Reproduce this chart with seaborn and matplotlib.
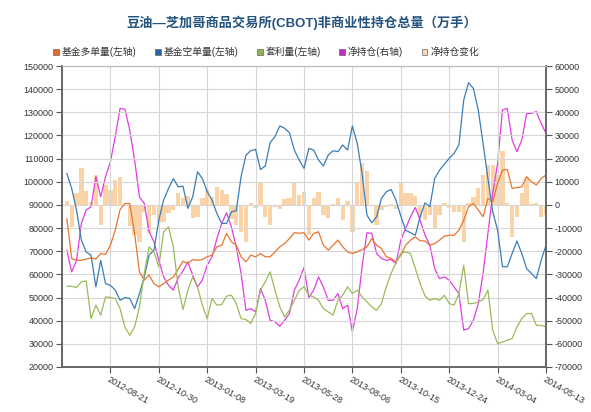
import numpy as np
import pandas as pd
import matplotlib
matplotlib.use('Agg')
import matplotlib.pyplot as plt
import seaborn as sns
from matplotlib.patches import Patch

# ------------------------------------------------------------
# data (weekly)
# ------------------------------------------------------------
start_date = '2012-06-19'
end_date = '2014-05-13'

# 基金多单量 (left axis)
long_pos = [84100, 66900, 66100, 66100, 66600, 67100, 66600, 69000, 68700, 72600,
            79100, 88000, 90600, 90600, 77700, 61100, 57500, 59700, 56000, 54600,
            56000, 57500, 58900, 62200, 65700, 64700, 66400, 66100, 66400, 67600,
            68300, 71900, 72600, 77700, 74100, 72600, 67600, 65400, 68300, 67600,
            69000, 67600, 67600, 69700, 71900, 73300, 75500, 78000, 77800, 78000,
            74800, 77700, 78400, 72600, 70500, 72600, 74800, 71900, 69700, 69000,
            69700, 70700, 71900, 75500, 72600, 71200, 67600, 66900, 65400, 68300,
            72600, 74800, 76200, 74500, 74400, 72600, 73300, 74800, 76500, 76900,
            76900, 79100, 83400, 89200, 90600, 87800, 84900, 92800, 91400, 99300,
            105000, 105300, 97100, 97500, 97800, 102200, 100000, 98600, 101400, 102900]

# 基金空单量 (left axis)
short_pos = [103600, 97100, 87800, 74800, 69700, 68300, 54600, 66100, 56000, 55300,
             53200, 48800, 50000, 49600, 45200, 51700, 58900, 68300, 70500, 83400,
             92100, 97100, 101400, 97800, 98100, 88500, 93500, 104300, 101400, 95700,
             92100, 86300, 82000, 82000, 87000, 87500, 102200, 111500, 113400, 114000,
             105300, 106800, 116900, 119500, 124100, 123100, 121200, 113700, 109400, 105800,
             114400, 113700, 109400, 106800, 111500, 113400, 113000, 115900, 113700, 124100,
             116600, 103600, 85600, 82300, 84900, 92800, 95700, 96700, 92100, 85200,
             79100, 78000, 76900, 84900, 90900, 89200, 101400, 105000, 107600, 110100,
             112200, 115900, 135300, 142800, 140300, 131000, 116600, 101400, 87000, 79100,
             63300, 63300, 69000, 74400, 69000, 62500, 60400, 58200, 66100, 72600]

# 套利量 (left axis)
spread_pos = [54900, 54900, 54300, 56800, 57200, 40900, 46700, 42400, 50300, 50000,
              49600, 45200, 37300, 33700, 37300, 46000, 60400, 71900, 69700, 63300,
              78400, 80500, 71900, 54600, 44800, 53200, 58900, 54600, 46700, 40900,
              49600, 46700, 47000, 50600, 51000, 47400, 40900, 40500, 38800, 43100,
              53200, 56800, 61100, 53200, 46000, 41600, 44500, 48800, 53000, 54700,
              51000, 50300, 48800, 45200, 43800, 42400, 48800, 51000, 54600, 51700,
              53200, 50300, 48100, 46000, 44500, 47400, 54600, 60400, 65000, 69000,
              69700, 69000, 62500, 56000, 50700, 48800, 49600, 48800, 51000, 47400,
              46700, 51700, 64000, 47400, 47400, 48100, 49100, 53200, 35900, 30100,
              30800, 31600, 32300, 37300, 40900, 43100, 43100, 38000, 38000, 37300]

# 净持仓 (right axis)
net_pos = [-19500, -28900, -23900, -8000, -2200, -800, 12200, 3500, 12200, 18600,
           29500, 41700, 41300, 32300, 19400, 3500, 600, -11600, -15900, -23900,
           -31100, -34700, -36800, -31500, -28500, -24600, -30300, -35400, -32500, -26000,
           -22400, -14500, -8000, -3400, -9500, -18100, -29600, -45500, -44800, -46200,
           -36100, -41200, -49800, -50500, -52400, -49800, -46900, -36800, -32500, -27000,
           -40000, -36800, -31100, -35400, -41200, -41200, -38300, -44800, -43300, -54800,
           -44800, -26700, -12000, -12300, -21000, -23100, -23900, -23600, -25300, -15200,
           -10200, -5100, -1100, -6600, -13000, -17400, -27500, -31800, -31100, -32500,
           -35400, -38300, -54100, -53400, -49800, -42600, -29600, -12300, 5000, 17900,
           41000, 41700, 28000, 23000, 28000, 39500, 39500, 40300, 35200, 30900]

# 净持仓变化 (right axis, bars)
net_change = [1500, -9400, 5000, 15900, 5800, 1400, 13000, -8700, 8700, 6400,
              10900, 12200, -400, -9000, -12900, -15900, -2900, -12200, -4300, -8000,
              -7200, -3600, -2100, 5300, 3000, 3900, -5700, -5100, 2900, 6500,
              3600, 7900, 6500, 4600, -6100, -8600, -11500, -15900, 700, -1400,
              10100, -5100, -8600, -700, -1900, 2600, 2900, 10100, 4300, 5500,
              -13000, 3200, 5700, -4300, -5800, 300, 2900, -6500, 1500, -11500,
              10000, 18100, 14700, -300, -8700, -2100, -800, 300, -1700, 10100,
              5000, 5100, 4000, -5500, -6400, -4400, -10100, -4300, 700, -1400,
              -2900, -2900, -15800, 700, 3600, 7200, 13000, 17300, 17300, 12900,
              23100, 700, -13700, -5000, 5000, 11500, 300, 800, -5100, -4300]

tick_labels = ['2012-08-21', '2012-10-30', '2013-01-08', '2013-03-19', '2013-05-28',
               '2013-08-06', '2013-10-15', '2013-12-24', '2014-03-04', '2014-05-13']

series_names = ['基金多单量(左轴)', '基金空单量(左轴)', '套利量(左轴)', '净持仓(右轴)', '净持仓变化']
line_colors = ['#E8762D', '#3A7DB8', '#9BBB59', '#E23CE2']
bar_color = '#FBC893'
legend_colors = ['#E8692C', '#2565A6', '#8DB552', '#C828C8', '#F9D8B8']

title = '豆油—芝加哥商品交易所(CBOT)非商业性持仓总量（万手）'

dates = pd.date_range(start_date, end_date, freq='7D')
df = pd.DataFrame({'date': dates, 'long': long_pos, 'short': short_pos,
                   'spread': spread_pos, 'net': net_pos, 'change': net_change})

# ------------------------------------------------------------
# style
# ------------------------------------------------------------
sns.set_theme(style='whitegrid')
plt.rcParams['font.family'] = ['Liberation Sans', 'Noto Sans CJK SC', 'DejaVu Sans']
plt.rcParams['axes.unicode_minus'] = False

W, H = 591, 412
fig = plt.figure(figsize=(W / 100, H / 100), dpi=100)
ax = fig.add_axes([62 / W, 1 - 367 / H, (546 - 62) / W, (367 - 66) / H])
ax2 = ax.twinx()

# right axis: bars + net position
ax2.bar(df['date'], df['change'], width=6.2, color=bar_color, alpha=0.8, linewidth=0, zorder=1)
sns.lineplot(data=df, x='date', y='net', ax=ax2, color=line_colors[3], lw=0.9, zorder=3)

# left axis lines
for col, c in zip(['long', 'short', 'spread'], line_colors[:3]):
    sns.lineplot(data=df, x='date', y=col, ax=ax, color=c, lw=0.9)

ax.set_zorder(ax2.get_zorder() + 1)
ax.patch.set_visible(False)

# axes limits / ticks
ax.set_xlim(dates[0] - pd.Timedelta(days=7), dates[-1])
ax.set_ylim(20000, 150000)
ax.set_yticks(np.arange(20000, 150001, 10000))
ax2.set_ylim(-70000, 60000)
ax2.set_yticks(np.arange(-70000, 60001, 10000))

ax.set_xticks(pd.to_datetime(tick_labels))
ax.set_xticklabels(tick_labels, rotation=-30, ha='left', va='top',
                   rotation_mode='anchor', fontsize=6.5, color='#333333')
ax.tick_params(axis='y', labelsize=6.5, labelcolor='#333333')
ax2.tick_params(axis='y', labelsize=6.5, labelcolor='#333333')
ax.set_xlabel('')
ax.set_ylabel('')
ax2.set_ylabel('')

ax.grid(True, color='#d6d6d6', linewidth=0.8)
ax2.grid(False)
ax.tick_params(axis='both', length=4, width=0.8, color='#555555', left=True, bottom=True, pad=2)
ax2.tick_params(axis='y', length=4, width=0.8, color='#555555', right=True, pad=2)

for a in (ax, ax2):
    for side in ['left', 'right', 'bottom']:
        a.spines[side].set_color('#666666')
        a.spines[side].set_linewidth(1.2)
    a.spines['top'].set_color('#bbbbbb')
    a.spines['top'].set_linewidth(0.8)

# title + legend
fig.text(0.51, 1 - 23 / H, title, ha='center', va='center', fontsize=9.5,
         fontweight='bold', color='#24527F')

handles = [Patch(facecolor=c, edgecolor='#666666', linewidth=0.5) for c in legend_colors]
fig.legend(handles, series_names, loc='center', bbox_to_anchor=(0.45, 1 - 52 / H),
           ncol=5, frameon=False, fontsize=7, handlelength=0.6, handleheight=0.6,
           handletextpad=0.3, columnspacing=1.9, labelcolor='#333333')

fig.savefig('out.png', dpi=100, facecolor='white')
